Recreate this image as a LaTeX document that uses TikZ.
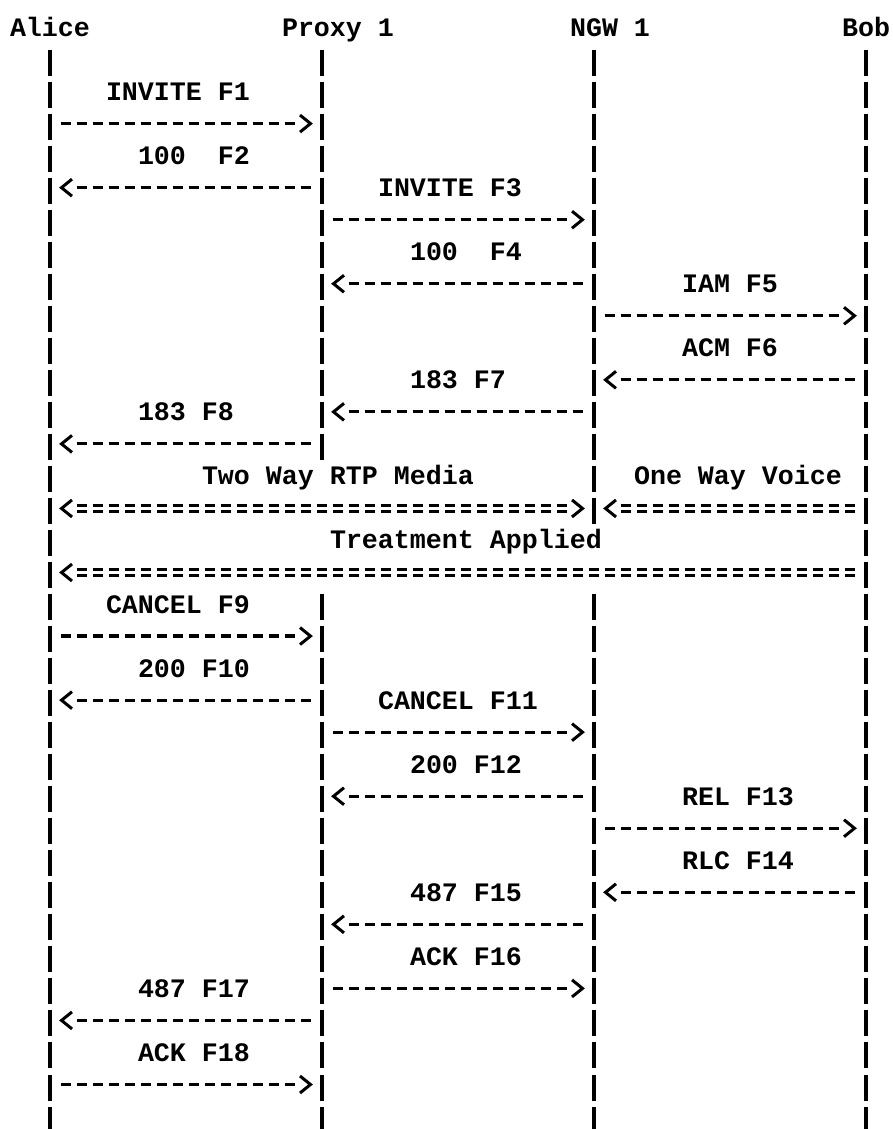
\documentclass[tikz,border=0pt]{standalone}
\usepackage{fontspec}
\newfontfamily\diafont{Liberation Mono}
% helpers: column c starts at x = 10+16c ; row k centre at y = 30.5+32.03k (y grows downward)
\newcommand{\Lbl}[4]{%
  \node[lbl] (#1) at ({10+16*#3},{30.5+32.03*#2+6}) {#4};}
\newcommand{\RMsg}[4]{% name, row, left lifeline col, right lifeline col
  \pgfmathsetmacro\yy{30.5+32.03*#2-3}
  \coordinate (#1s) at ({10+16*(#3+1)+2.5},\yy);
  \coordinate (#1e) at ({10+16*(#4-2)+13},\yy);
  \coordinate (#1t) at ({10+16*(#4-1)+12.5},\yy);
  \draw[sig] (#1s) -- (#1e);
  \draw[chev] ([shift={(-10.5,-8.5)}]#1t) -- (#1t) -- ([shift={(-10.5,8.5)}]#1t);}
\newcommand{\LMsg}[4]{% name, row, left lifeline col, right lifeline col
  \pgfmathsetmacro\yy{30.5+32.03*#2-3}
  \coordinate (#1t) at ({10+16*(#3+1)+3.5},\yy);
  \coordinate (#1s) at ({10+16*(#3+2)+2.5},\yy);
  \coordinate (#1e) at ({10+16*(#4-1)+13},\yy);
  \draw[sig] (#1s) -- (#1e);
  \draw[chev] ([shift={(10.5,-8.5)}]#1t) -- (#1t) -- ([shift={(10.5,8.5)}]#1t);}
\newcommand{\DMsg}[5]{% name, row, left col, right col, both heads (1/0)
  \pgfmathsetmacro\yy{30.5+32.03*#2-2.5}
  \coordinate (#1t) at ({10+16*(#3+1)+3.5},\yy);
  \coordinate (#1s) at ({10+16*(#3+2)+2.5},\yy);
  \ifnum#5=1
    \coordinate (#1e) at ({10+16*(#4-2)+13},\yy);
    \coordinate (#1u) at ({10+16*(#4-1)+12.5},\yy);
    \draw[chev] ([shift={(-10.5,-8.5)}]#1u) -- (#1u) -- ([shift={(-10.5,8.5)}]#1u);
  \else
    \coordinate (#1e) at ({10+16*(#4-1)+13},\yy);
  \fi
  \draw[eqline] (#1s) -- (#1e);
  \draw[chev] ([shift={(10.5,-8.5)}]#1t) -- (#1t) -- ([shift={(10.5,8.5)}]#1t);}
\begin{document}
\begin{tikzpicture}[x=1pt,y=-1pt,
  lbl/.style={anchor=base west, inner sep=0pt, outer sep=0pt,
    font=\diafont\bfseries\fontsize{26.66pt}{30pt}\selectfont},
  lifebar/.style={line width=4.5pt, line cap=butt},
  sig/.style={line width=3.2pt, dash pattern=on 10.7pt off 5.3pt},
  chev/.style={line width=3pt, line join=miter, line cap=butt},
  eqline/.style={double, double distance=3.6pt, line width=2.6pt,
    dash pattern=on 10.7pt off 5.3pt}]
\fill[white] (0,0) rectangle (892,1129);
\useasboundingbox (0,0) rectangle (892,1129);

% header
\Lbl{alice}{0}{0}{Alice}
\Lbl{proxy}{0}{17}{Proxy 1}
\Lbl{ngw}{0}{35}{NGW 1}
\Lbl{bob}{0}{52}{Bob}

% lifelines (one bar per text row)
\foreach \k in {1,...,34} {
  \pgfmathsetmacro\yc{30.5+32.03*\k}
  \draw[lifebar] (50,{\yc-13}) -- (50,{\yc+13});
  \draw[lifebar] (866,{\yc-13}) -- (866,{\yc+13});
  \ifnum\k<14 \draw[lifebar] (322,{\yc-13}) -- (322,{\yc+13});\fi
  \ifnum\k>17 \draw[lifebar] (322,{\yc-13}) -- (322,{\yc+13});\fi
  \ifnum\k<16 \draw[lifebar] (594,{\yc-13}) -- (594,{\yc+13});\fi
  \ifnum\k>17 \draw[lifebar] (594,{\yc-13}) -- (594,{\yc+13});\fi
}

% labels
\Lbl{l1}{2}{6}{INVITE F1}
\Lbl{l2}{4}{8}{100\ \ F2}
\Lbl{l3}{5}{23}{INVITE F3}
\Lbl{l4}{7}{25}{100\ \ F4}
\Lbl{l5}{8}{42}{IAM F5}
\Lbl{l6}{10}{42}{ACM F6}
\Lbl{l7}{11}{25}{183 F7}
\Lbl{l8}{12}{8}{183 F8}
\Lbl{l9}{14}{12}{Two Way RTP Media}
\Lbl{l10}{14}{39}{One Way Voice}
\Lbl{l11}{16}{20}{Treatment Applied}
\Lbl{l12}{18}{6}{CANCEL F9}
\Lbl{l13}{20}{8}{200 F10}
\Lbl{l14}{21}{23}{CANCEL F11}
\Lbl{l15}{23}{25}{200 F12}
\Lbl{l16}{24}{42}{REL F13}
\Lbl{l17}{26}{42}{RLC F14}
\Lbl{l18}{27}{25}{487 F15}
\Lbl{l19}{29}{25}{ACK F16}
\Lbl{l20}{30}{8}{487 F17}
\Lbl{l21}{32}{8}{ACK F18}

% messages
\RMsg{f1}{3}{2}{19}
\LMsg{f2}{5}{2}{19}
\RMsg{f3}{6}{19}{36}
\LMsg{f4}{8}{19}{36}
\RMsg{f5}{9}{36}{53}
\LMsg{f6}{11}{36}{53}
\LMsg{f7}{12}{19}{36}
\LMsg{f8}{13}{2}{19}
\DMsg{rtp}{15}{2}{36}{1}
\DMsg{voice}{15}{36}{53}{0}
\DMsg{treat}{17}{2}{53}{0}
\RMsg{f9}{19}{2}{19}
\LMsg{f10}{21}{2}{19}
\RMsg{f11}{22}{19}{36}
\LMsg{f12}{24}{19}{36}
\RMsg{f13}{25}{36}{53}
\LMsg{f14}{27}{36}{53}
\LMsg{f15}{28}{19}{36}
\RMsg{f16}{30}{19}{36}
\LMsg{f17}{31}{2}{19}
\RMsg{f18}{33}{2}{19}
\end{tikzpicture}
\end{document}
